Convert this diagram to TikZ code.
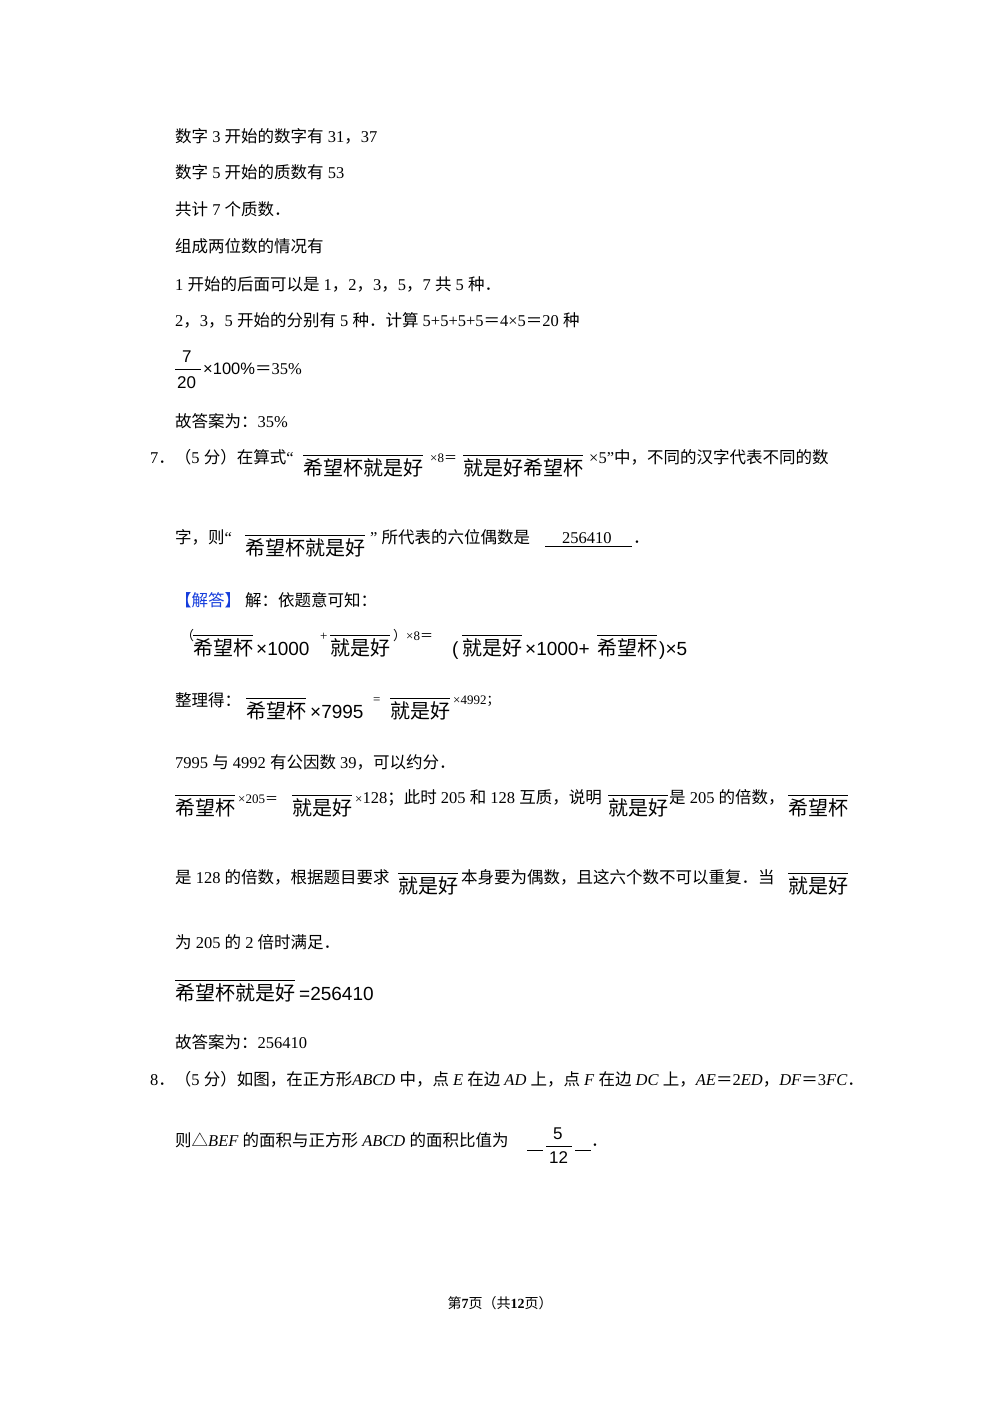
\documentclass[tikz,border=0pt]{standalone}
\usepackage{fontspec}
\setmainfont{Liberation Serif}
\newfontfamily\cjk{Noto Sans CJK SC}
\newfontfamily\sansf{Liberation Sans}
\XeTeXinterchartokenstate=1
\newXeTeXintercharclass\cjkclass
\newcount\cc
\def\setrange#1#2{\cc=#1\relax\loop\XeTeXcharclass\cc=\cjkclass\advance\cc by 1\relax\ifnum\cc<#2\repeat}
\setrange{"4E00}{"A000}
\setrange{"3000}{"3040}
\setrange{"FF00}{"FFF0}
\setrange{"25A0}{"2600}
\XeTeXinterchartoks 0 \cjkclass = {\cjk}
\XeTeXinterchartoks 4095 \cjkclass = {\cjk}
\XeTeXinterchartoks \cjkclass 0 = {\rmfamily}
\XeTeXinterchartoks \cjkclass 4095 = {\rmfamily}
\definecolor{ansblue}{RGB}{20,60,220}
\begin{document}
\begin{tikzpicture}[x=1pt,y=-1pt,
  t/.style={anchor=base west,inner sep=0pt,font=\fontsize{16.5}{18}\selectfont},
  big/.style={anchor=base west,inner sep=0pt,font=\fontsize{20}{24}\selectfont\cjk},
  sup/.style={anchor=base west,inner sep=0pt,font=\fontsize{13}{15}\selectfont},
  ol/.style={line width=0.6pt}]
\fill[white] (0,0) rectangle (1000,1415);
\newcommand\ovl[4]{\node[big] (#1) at (#2,#3) {#4};
  \draw[ol] ([yshift=3pt]#1.north west) -- ([yshift=3pt]#1.north east);}
\node[t] (l1) at (175,143) {数字 3 开始的数字有 31，37};
\node[t] (l2) at (175,179) {数字 5 开始的质数有 53};
\node[t] (l3) at (175,216) {共计 7 个质数．};
\node[t] (l4) at (175,253) {组成两位数的情况有};
\node[t] (l5) at (175,290) {1 开始的后面可以是 1，2，3，5，7 共 5 种．};
\node[t] (l6) at (175,326) {2，3，5 开始的分别有 5 种．计算 5+5+5+5＝4×5＝20 种};
\node[t,font=\fontsize{17}{18}\selectfont\sansf] (n7) at (182,362) {7};
\draw (175,369) -- (201,369);
\node[t,font=\fontsize{17}{18}\selectfont\sansf] (d20) at (177,388) {20};
\node[t] (pc) at (203,374) {{\sansf ×100\%}＝35\%};
\node[t] (l8) at (175,427) {故答案为：35\%};
% problem 7
\node[t] (p7a) at (150,463) {7．（5 分）在算式“};
\ovl{o1}{303}{475}{希望杯就是好}
\node[sup] (s1) at (430,462) {×8＝};
\ovl{o2}{463}{475}{就是好希望杯}
\node[t] (p7b) at (589,463) {×5”中，不同的汉字代表不同的数};
\node[t] (p7c) at (175,543) {字，则“};
\ovl{o3}{245}{555}{希望杯就是好}
\node[t] (p7d) at (370,543) {” 所代表的六位偶数是};
\node[t] (ans) at (562,543) {256410};
\draw (545,546) -- (632,546);
\node[t] (dot1) at (633,543) {．};
\node[t,text=ansblue] (jd) at (175,606) {【解答】};
\node[t] (jd2) at (245,606) {解：依题意可知：};
% equation 1
\node[sup] (lp) at (181,640) {（};
\ovl{o4}{193}{655}{希望杯}
\node[t,font=\fontsize{19}{20}\selectfont\sansf] (m1) at (256,655) {×1000};
\node[sup] (pl) at (320,640) {+};
\ovl{o5}{330}{655}{就是好}
\node[sup] (rp) at (393,640) {）×8＝};
\node[t,font=\fontsize{19}{20}\selectfont\sansf] (lp2) at (452,655) {(};
\ovl{o6}{462}{655}{就是好}
\node[t,font=\fontsize{19}{20}\selectfont\sansf] (m2) at (525,655) {×1000+};
\ovl{o7}{597}{655}{希望杯}
\node[t,font=\fontsize{19}{20}\selectfont\sansf] (m3) at (659,655) {)×5};
% equation 2
\node[t] (zl) at (175,706) {整理得：};
\ovl{o8}{246}{718}{希望杯}
\node[t,font=\fontsize{19}{20}\selectfont\sansf] (m4) at (310,718) {×7995};
\node[sup] (eq2) at (373,703) {=};
\ovl{o9}{390}{718}{就是好}
\node[sup] (m5) at (453,704) {×4992；};
\node[t] (l10) at (175,768) {7995 与 4992 有公因数 39，可以约分．};
% line 11
\ovl{o10}{175}{815}{希望杯}
\node[sup] (s3) at (238,803) {×205＝};
\ovl{o11}{292}{815}{就是好}
\node[t] (l11) at (355,803) {{\fontsize{13}{15}\selectfont ×}128；此时 205 和 128 互质，说明};
\ovl{o12}{608}{815}{就是好}
\node[t] (l11b) at (669,803) {是 205 的倍数，};
\ovl{o13}{788}{815}{希望杯}
\node[t] (l12) at (175,883) {是 128 的倍数，根据题目要求};
\ovl{o14}{398}{893}{就是好}
\node[t] (l12b) at (461,883) {本身要为偶数，且这六个数不可以重复．当};
\ovl{o15}{788}{893}{就是好}
\node[t] (l13) at (175,948) {为 205 的 2 倍时满足．};
\ovl{o16}{175}{1000}{希望杯就是好}
\node[t,font=\fontsize{19}{20}\selectfont\sansf] (m6) at (299,1000) {=256410};
\node[t] (l14) at (175,1048) {故答案为：256410};
% problem 8
\node[t] (p8) at (150,1085) {8．（5 分）如图，在正方形\textit{ABCD} 中，点 \textit{E} 在边 \textit{AD} 上，点 \textit{F} 在边 \textit{DC} 上，\textit{AE}＝2\textit{ED}，\textit{DF}＝3\textit{FC}．};
\node[t] (p8b) at (175,1146) {则△\textit{BEF} 的面积与正方形 \textit{ABCD} 的面积比值为};
\node[t,font=\fontsize{17}{18}\selectfont\sansf] (n5) at (553,1139) {5};
\draw (546,1146) -- (572,1146);
\node[t,font=\fontsize{17}{18}\selectfont\sansf] (d12) at (549,1163) {12};
\draw (527,1150) -- (543,1150) (575,1150) -- (591,1150);
\node[t] (dot2) at (591,1146) {．};
\node[anchor=base,inner sep=0pt,font=\fontsize{14}{16}\selectfont] (ft) at (500,1308) {第\textbf{7}页（共\textbf{12}页）};
\end{tikzpicture}
\end{document}
